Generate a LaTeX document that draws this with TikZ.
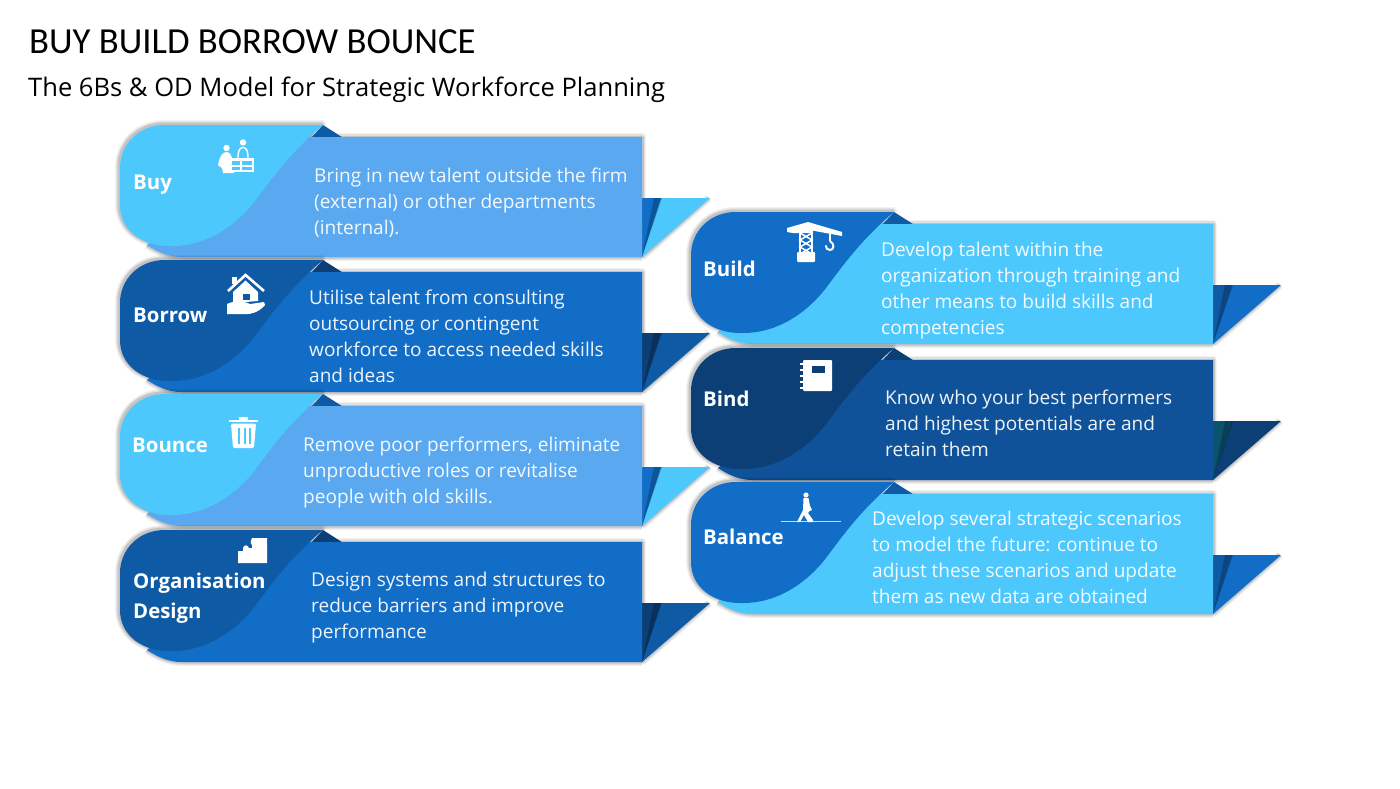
\documentclass[tikz,border=0pt]{standalone}
\usepackage{fontspec}
\setmainfont{Open Sans}
\newfontfamily\titlefont{Carlito}
\definecolor{cLight}{HTML}{4DC8FD}
\definecolor{cMid}{HTML}{5AA8EF}
\definecolor{cBlue}{HTML}{116DC6}
\definecolor{cDark}{HTML}{0F5AA5}
\definecolor{cNavy}{HTML}{0C3F75}
\definecolor{cBind}{HTML}{0F5299}
\definecolor{cTeal}{HTML}{0B5470}
\tikzset{
  x=1pt,y=-1pt,
  body/.style={text=white,font=\fontsize{19.05}{26}\selectfont,align=left,anchor=west,inner sep=0pt,opacity=.93},
  head/.style={text=white,font=\fontsize{20.4}{30}\selectfont\bfseries,align=left,anchor=west,inner sep=0pt},
  icon/.style={fill=white,draw=none},
  iconline/.style={draw=white,line width=2.2pt},
}
\newcommand{\backpath}{(147,245) .. controls (158,252) and (168,257) .. (182,257) -- (642,257) -- (642,137) -- (290,137) -- cycle}
\newcommand{\frontpath}{(323,125) -- (165,125) .. controls (138,125) and (120,145) .. (120,168) -- (120,205) .. controls (120,230) and (142,247) .. (172,246) .. controls (210,246) and (240,222) .. (258,197) .. controls (280,167) and (298,146) .. (323,125) -- cycle}
% #1 dx #2 dy #3 front #4 back #5 fold sliver #6 fold tip #7 notch
\newcommand{\cardshape}[7]{%
  \begin{scope}[shift={(#1,#2)}]
    \foreach \w/\o in {8/.05,5.5/.08,3/.12}{
      \begin{scope}[shift={(-1,-1)}]
      \draw[black,opacity=\o,line width=\w pt,line join=round] \frontpath;
      \end{scope}
      \draw[black,opacity=\o,line width=\w pt,line join=round] (300,137) -- (642,137) -- (642,198);
      \draw[black,opacity=\o,line width=\w pt,line join=round] (147,245) .. controls (158,252) and (168,257) .. (182,257) -- (642,257);
      \draw[black,opacity=\o,line width=\w pt,line join=round] (642,257) -- (709,198);
    }
    \fill[#7] (310,139) -- (323,125) -- (345,139) -- cycle;
    \fill[#6] (642,198) -- (710,198) -- (642,257) -- cycle;
    \fill[#5] (642,198) -- (661,198) -- (642,257) -- cycle;
    \fill[black,opacity=.22] (654,198) -- (662,198) -- (642,257) -- cycle;
    \fill[#4] \backpath;
    \fill[#3] \frontpath;
  \end{scope}}
\begin{document}
\begin{tikzpicture}
\useasboundingbox (0,0) rectangle (1400,788);
\fill[white] (0,0) rectangle (1400,788);

\node[anchor=west,inner sep=0pt,font=\titlefont\fontsize{36.7}{40}\selectfont] (title) at (29,42) {BUY BUILD BORROW BOUNCE};
\node[anchor=west,inner sep=0pt,font=\fontsize{25.55}{30}\selectfont] (subtitle) at (28,89.5) {The 6Bs \& OD Model for Strategic Workforce Planning};

\cardshape{0}{0}{cLight}{cMid}{cBlue}{cLight}{cDark}
\cardshape{0}{135}{cDark}{cBlue}{cNavy}{cDark}{cNavy}
\cardshape{0}{269}{cLight}{cMid}{cBlue}{cLight}{cDark}
\cardshape{0}{405}{cDark}{cBlue}{cNavy}{cDark}{cNavy}
\cardshape{571}{87}{cBlue}{cLight}{cDark}{cBlue}{cDark}
\cardshape{571}{223}{cNavy}{cBind}{cTeal}{cNavy}{cNavy}
\cardshape{571}{357}{cBlue}{cLight}{cDark}{cBlue}{cDark}

% labels
\node[head] (lbuy) at (133,185) {Buy};
\node[head] (lborrow) at (133,315.5) {Borrow};
\node[head] (lbounce) at (132,445.5) {Bounce};
\node[head] (lorg) at (133,598) {Organisation\\Design};
\node[head] (lbuild) at (703,269) {Build};
\node[head] (lbind) at (703,399) {Bind};
\node[head] (lbalance) at (703,537) {Balance};

% body text
\node[body] (tbuy) at (314,203) {Bring in new talent outside the firm\\(external) or other departments\\(internal).};
\node[body] (tborrow) at (309,336) {Utilise talent from consulting\\outsourcing or contingent\\workforce to access needed skills\\and ideas};
\node[body] (tbounce) at (303,472) {Remove poor performers, eliminate\\unproductive roles or revitalise\\people with old skills.};
\node[body] (torg) at (311,608) {Design systems and structures to\\reduce barriers and improve\\performance};
\node[body] (tbuild) at (881,290.5) {Develop talent within the\\organization through training and\\other means to build skills and\\competencies};
\node[body] (tbind) at (885,423) {Know who your best performers\\and highest potentials are and\\retain them};
\node[body] (tbalance) at (872,557) {Develop several strategic scenarios\\to model the future: continue to\\adjust these scenarios and update\\them as new data are obtained};

% icon: buy (people at a counter)
\fill[icon] (226.5,148) circle (3.2);
\fill[icon] (243,142.5) circle (3.2);
\draw[white,line width=1.4pt] (238,158) .. controls (238,150) and (240,147.5) .. (243,147.5) .. controls (246,147.5) and (248,150) .. (248,158);
\fill[icon] (218,165) .. controls (220,156) and (222,152) .. (227,152) .. controls (231,152) and (233,158) .. (234,173) -- (223,173) -- (222,168) -- cycle;
\fill[icon] (230,158) rectangle (254,172);
\fill[cLight] (232,161) rectangle (252,164.5);
\fill[cLight] (232,167) rectangle (252,169.5);
\fill[icon] (240,161) rectangle (242,170);

% icon: house in hand
\fill[icon] (232,284) rectangle (237,277);
\draw[white,line width=2.6pt,line join=miter] (228,291) -- (245.5,275) -- (264,291);
\fill[icon] (233,292) -- (245.5,280.5) -- (258,292) -- (258,301) -- (233,303) -- cycle;
\fill[cDark] (243,294) rectangle (250,300);
\fill[icon] (227,304) .. controls (235,300) and (244,301) .. (250,304) -- (264,302) -- (265,305) .. controls (258,313) and (250,315) .. (240,314) -- (227,314) -- cycle;

% icon: bin
\fill[icon] (229,419.5) rectangle (258,422);
\fill[icon] (239,417) rectangle (248,420);
\fill[icon,rounded corners=1.5pt] (231,423.5) -- (256,423.5) -- (254,448) -- (233,448) -- cycle;
\foreach \bx in {238,243.5,249}{\fill[cLight] (\bx,428) rectangle (\bx+2,444);}

% icon: puzzle
\fill[icon] (238,551) -- (243,551) -- (243,548) .. controls (244,544) and (248,545) .. (249,548) -- (252,548) -- (252,545) .. controls (249,542) and (252,540) .. (252,538) -- (267,538) -- (267,563) -- (238,563) -- cycle;

% icon: crane
\fill[icon] (787,228) -- (808,222) -- (842,232) -- (842,236) -- (812,230.5) -- (812,233) -- (800,233) -- (793,233) -- (787,232) -- cycle;
\draw[iconline] (800,230) -- (800,254) (812,230) -- (812,254);
\draw[white,line width=1.5pt] (800,233) -- (812,240) -- (800,247) -- (812,254) (812,233) -- (800,240) -- (812,247) -- (800,254);
\fill[icon,rounded corners=1pt] (797,252) rectangle (815,262);
\draw[white,line width=2pt] (830,234) -- (830,241);
\draw[white,line width=2pt,line cap=round] (830,241) .. controls (835,244) and (834,250) .. (830,250) .. controls (827,250) and (826,248) .. (826,246);

% icon: notebook
\fill[icon,rounded corners=1pt] (803,360) rectangle (832,391);
\foreach \ny in {364,370,376,382,388}{\fill[icon] (800,\ny-1) rectangle (804,\ny+1);}
\fill[cNavy] (812,366) rectangle (825,373);

% icon: walker
\draw[draw=white,opacity=.75,line width=.9pt] (780.5,521.5) -- (841,521.5);
\fill[icon] (806,495) circle (2.6);
\fill[icon] (803.5,498) -- (808.5,498) -- (810,506) -- (812,510) -- (809.5,511) -- (808,513) -- (813,520) -- (813,522) -- (808,522) -- (804,515) -- (800,522) -- (797,522) -- (803,510) -- cycle;
\end{tikzpicture}
\end{document}
